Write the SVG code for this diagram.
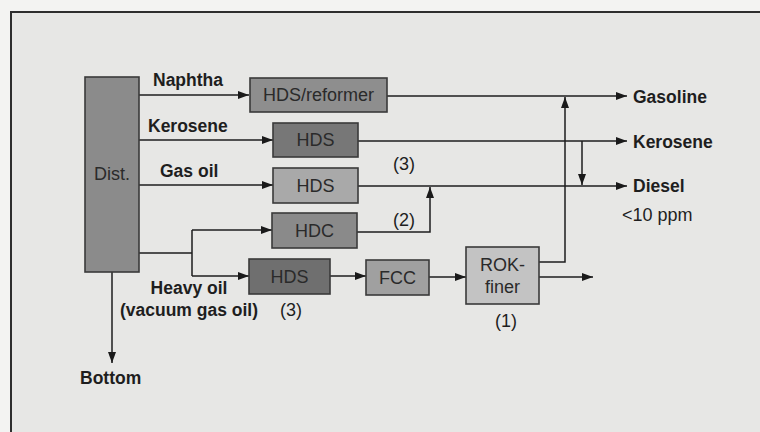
<svg xmlns="http://www.w3.org/2000/svg" width="760" height="432" viewBox="0 0 760 432">
<defs>
<marker id="arr" markerUnits="userSpaceOnUse" markerWidth="12" markerHeight="10" refX="11" refY="4" orient="auto">
<path d="M0,0 L11,4 L0,8 Z" fill="#1a1a1a"/>
</marker>
<style>
.box{stroke:#3a3a3a;stroke-width:1.6}
.ln{fill:none;stroke:#1e1e1e;stroke-width:1.5}
.lb{font-family:"Liberation Sans",Arial,sans-serif;font-size:17.5px;font-weight:bold;fill:#1e1e1e}
.rg{font-family:"Liberation Sans",Arial,sans-serif;font-size:18px;fill:#1e1e1e}
.bt{font-family:"Liberation Sans",Arial,sans-serif;font-size:18px;fill:#2a2a2a;text-anchor:middle}
</style>
</defs>
<rect x="0" y="0" width="760" height="432" fill="#f3f3f2"/>
<rect x="11" y="12" width="770" height="440" fill="#e7e7e5" stroke="#2e2e2e" stroke-width="2"/>

<g id="connectors">
<path class="ln" d="M139,95 H249" marker-end="url(#arr)"/>
<path class="ln" d="M139,140 H273" marker-end="url(#arr)"/>
<path class="ln" d="M139,185 H273" marker-end="url(#arr)"/>
<path class="ln" d="M139,253 H192 M192,230 V276"/>
<path class="ln" d="M192,230 H272" marker-end="url(#arr)"/>
<path class="ln" d="M192,276 H249" marker-end="url(#arr)"/>
<path class="ln" d="M387,96 H627" marker-end="url(#arr)"/>
<path class="ln" d="M358,141 H627" marker-end="url(#arr)"/>
<path class="ln" d="M582,141 V185" marker-end="url(#arr)"/>
<path class="ln" d="M358,186 H627" marker-end="url(#arr)"/>
<path class="ln" d="M357,232 H430 V187" marker-end="url(#arr)"/>
<path class="ln" d="M330,276 H366" marker-end="url(#arr)"/>
<path class="ln" d="M429,277 H466" marker-end="url(#arr)"/>
<path class="ln" d="M539,262 H565 V97" marker-end="url(#arr)"/>
<path class="ln" d="M539,277 H593" marker-end="url(#arr)"/>
<path class="ln" d="M112,272 V363" marker-end="url(#arr)"/>
</g>

<g id="dist">
<rect class="box" x="85" y="77" width="54" height="195" fill="#8b8b8b"/>
<text class="bt" x="112" y="180">Dist.</text>
</g>
<g id="hds-reformer">
<rect class="box" x="250" y="78" width="137" height="34" fill="#8e8e8e"/>
<text class="bt" x="318.5" y="101">HDS/reformer</text>
</g>
<g id="hds-kerosene">
<rect class="box" x="273" y="123" width="85" height="34" fill="#777777"/>
<text class="bt" x="315.5" y="146">HDS</text>
</g>
<g id="hds-gasoil">
<rect class="box" x="273" y="168" width="85" height="35" fill="#a9a9a9"/>
<text class="bt" x="315.5" y="192">HDS</text>
</g>
<g id="hdc">
<rect class="box" x="272" y="213" width="85" height="35" fill="#8a8a8a"/>
<text class="bt" x="314.5" y="237">HDC</text>
</g>
<g id="hds-heavy">
<rect class="box" x="249" y="259" width="81" height="35" fill="#6f6f6f"/>
<text class="bt" x="289.5" y="283">HDS</text>
</g>
<g id="fcc">
<rect class="box" x="366" y="260" width="63" height="35" fill="#a0a0a0"/>
<text class="bt" x="397.5" y="284">FCC</text>
</g>
<g id="rok-finer">
<rect class="box" x="466" y="247" width="73" height="57" fill="#c3c3c3"/>
<text class="bt" x="502.5" y="271">ROK-</text>
<text class="bt" x="502.5" y="293">finer</text>
</g>

<g id="labels">
<text class="lb" x="153" y="86">Naphtha</text>
<text class="lb" x="148" y="132">Kerosene</text>
<text class="lb" x="160" y="177">Gas oil</text>
<text class="lb" x="189" y="294" text-anchor="middle">Heavy oil</text>
<text class="lb" x="189" y="316" text-anchor="middle">(vacuum gas oil)</text>
<text class="rg" x="280" y="316">(3)</text>
<text class="rg" x="393" y="170">(3)</text>
<text class="rg" x="393" y="226">(2)</text>
<text class="rg" x="495" y="327">(1)</text>
<text class="lb" x="80" y="384">Bottom</text>
<text class="lb" x="633" y="103">Gasoline</text>
<text class="lb" x="633" y="148">Kerosene</text>
<text class="lb" x="633" y="192">Diesel</text>
<text class="rg" x="622" y="221">&lt;10 ppm</text>
</g>
</svg>
